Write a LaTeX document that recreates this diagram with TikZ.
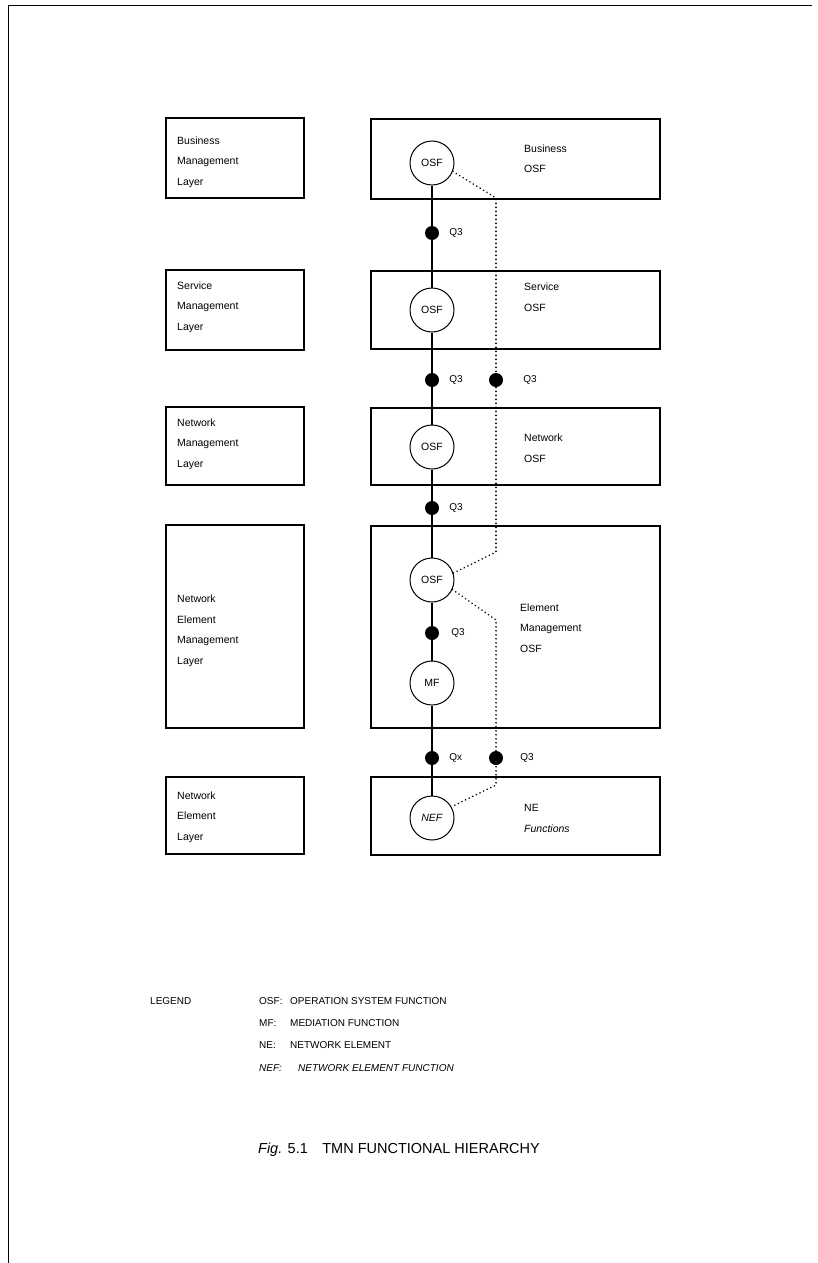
\documentclass[tikz,border=0pt]{standalone}
\usepackage{fontspec}
\setmainfont{Liberation Sans}
\usetikzlibrary{positioning}

\begin{document}
\begin{tikzpicture}[x=1pt,y=-1pt,
  layer/.style={draw,line width=1.1pt,minimum width=138pt},
  fnbox/.style={draw,line width=1.1pt,minimum width=289pt},
  boxtxt/.style={anchor=west,align=left,inner sep=0pt,font=\fontsize{10.5}{20.5}\selectfont},
  fn/.style={draw,circle,line width=1pt,minimum size=44pt,inner sep=0pt,
    fill=white,font=\fontsize{10.5}{12}\selectfont},
  refpt/.style={circle,fill=black,minimum size=14pt,inner sep=0pt},
  ref/.style={font=\fontsize{10}{12}\selectfont,inner sep=1pt},
  lgd/.style={anchor=west,font=\fontsize{10}{12}\selectfont,inner sep=0pt},
  wire/.style={line width=1.2pt},
  link/.style={line width=1.7pt,dash pattern=on 0.1pt off 3.9pt,line cap=round}]
\useasboundingbox (0,0) rectangle (818,1263);
% page frame
\draw[line width=1pt] (812,6) -- (8,6) -- (8,1263);
% layers
\node[layer,minimum height=80pt]  (blay)  at (235,158)   {};
\node[layer,minimum height=80pt]  (slay)  at (235,310)   {};
\node[layer,minimum height=78pt]  (nlay)  at (235,446)   {};
\node[layer,minimum height=203pt] (emlay) at (235,626.5) {};
\node[layer,minimum height=77pt]  (nelay) at (235,815.5) {};
\node[boxtxt] (bltxt)  at (177,162) {Business\\Management\\Layer};
\node[boxtxt] (sltxt)  at (177,307) {Service\\Management\\Layer};
\node[boxtxt] (nltxt)  at (177,444) {Network\\Management\\Layer};
\node[boxtxt] (emltxt) at (177,631) {Network\\Element\\Management\\Layer};
\node[boxtxt] (neltxt) at (177,817) {Network\\Element\\Layer};
% function blocks
\node[fnbox,minimum height=80pt]  (bbox)  at (515.5,159) {};
\node[fnbox,minimum height=78pt]  (sbox)  at (515.5,310) {};
\node[fnbox,minimum height=77pt]  (nbox)  at (515.5,446.5) {};
\node[fnbox,minimum height=202pt] (embox) at (515.5,627) {};
\node[fnbox,minimum height=78pt]  (nebox) at (515.5,816) {};
\node[boxtxt] (btxt)  at (524,158.5) {Business\\OSF};
\node[boxtxt] (stxt)  at (524,297)   {Service\\OSF};
\node[boxtxt] (ntxt)  at (524,448)   {Network\\OSF};
\node[boxtxt] (emtxt) at (520,628)   {Element\\Management\\OSF};
\node[boxtxt] (netxt) at (524,818.5) {NE\\\textit{Functions}};
% functions
\node[fn] (bosf)  at (432,163) {OSF};
\node[fn] (sosf)  at (432,310) {OSF};
\node[fn] (nosf)  at (432,447) {OSF};
\node[fn] (emosf) at (432,580) {OSF};
\node[fn] (mf)    at (432,683) {MF};
\node[fn] (nef)   at (432,818) {\textit{NEF}};
\foreach \a/\b in {bosf/sosf,sosf/nosf,nosf/emosf,emosf/mf,mf/nef}
  \draw[wire] (\a) -- (\b);
% Q3 path to the NE
\coordinate (k1) at (496,198);
\coordinate (k2) at (496,552);
\coordinate (k3) at (496,620);
\coordinate (k4) at (496,785);
\draw[link] (bosf.-22) -- (k1) -- (k2) -- (emosf.18);
\draw[link] (emosf.-25) -- (k3) -- (k4) -- (nef.30);
% reference points
\node[refpt] (p1) at (432,233) {};
\node[refpt] (p2) at (432,380) {};
\node[refpt] (p3) at (496,380) {};
\node[refpt] (p4) at (432,508) {};
\node[refpt] (p5) at (432,633) {};
\node[refpt] (p6) at (432,758) {};
\node[refpt] (p7) at (496,758) {};
\node[ref,right=9pt of p1]  (r1) {Q3};
\node[ref,right=9pt of p2]  (r2) {Q3};
\node[ref,right=19pt of p3] (r3) {Q3};
\node[ref,right=9pt of p4]  (r4) {Q3};
\node[ref,right=11pt of p5] (r5) {Q3};
\node[ref,right=9pt of p6]  (r6) {Qx};
\node[ref,right=16pt of p7] (r7) {Q3};
% legend
\node[lgd] (legend) at (150,1001) {LEGEND};
\node[lgd] (k-osf) at (259,1001) {OSF:};
\node[lgd] (t-osf) at (290,1001) {OPERATION SYSTEM FUNCTION};
\node[lgd] (k-mf)  at (259,1023) {MF:};
\node[lgd] (t-mf)  at (290,1023) {MEDIATION FUNCTION};
\node[lgd] (k-ne)  at (259,1045) {NE:};
\node[lgd] (t-ne)  at (290,1045) {NETWORK ELEMENT};
\node[lgd] (k-nef) at (259,1068) {\textit{NEF:}};
\node[lgd] (t-nef) at (298,1068) {\textit{NETWORK ELEMENT FUNCTION}};
\node[font=\fontsize{14.5}{16}\selectfont] (cap) at (399,1150)
  {\textit{Fig.} 5.1\quad TMN FUNCTIONAL HIERARCHY};
\end{tikzpicture}
\end{document}
